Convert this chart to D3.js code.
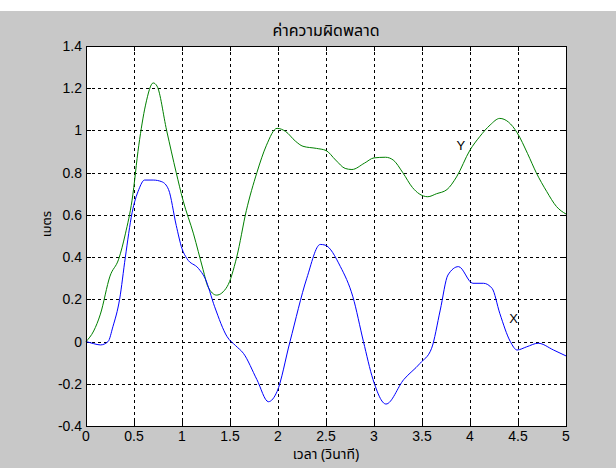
<!DOCTYPE html>
<html>
<head>
<meta charset="utf-8">
<script src="https://cdn.jsdelivr.net/npm/d3@7"></script>
<style>
  body { margin: 0; background: #fff; }
  svg { display: block; }
  .tick-label { font-family: "Liberation Sans", Arial, sans-serif; font-size: 14px; fill: #000; }
  .thai { font-family: "Noto Sans Thai", "Noto Sans", "DejaVu Sans", sans-serif; fill: #000; }
</style>
</head>
<body>
<div id="chart"></div>
<script>
// time (s) and error (m)
const tY = [0, 0.08, 0.15, 0.25, 0.34, 0.41, 0.48, 0.55, 0.62, 0.70, 0.74, 0.84, 0.94, 1.01, 1.12, 1.22, 1.27, 1.36, 1.47, 1.57, 1.67, 1.78, 1.88, 1.99, 2.08, 2.18, 2.26, 2.40, 2.50, 2.60, 2.70, 2.77, 2.90, 3.00, 3.12, 3.20, 3.30, 3.40, 3.47, 3.56, 3.65, 3.76, 3.86, 4.00, 4.10, 4.21, 4.31, 4.40, 4.49, 4.60, 4.69, 4.80, 4.90, 5.00];
const valY = [0, 0.05, 0.13, 0.31, 0.39, 0.51, 0.67, 0.93, 1.12, 1.225, 1.21, 1.0, 0.8, 0.67, 0.51, 0.34, 0.26, 0.22, 0.26, 0.40, 0.62, 0.80, 0.93, 1.01, 0.995, 0.95, 0.925, 0.915, 0.905, 0.86, 0.82, 0.815, 0.845, 0.87, 0.873, 0.86, 0.80, 0.73, 0.70, 0.686, 0.70, 0.72, 0.78, 0.907, 0.97, 1.026, 1.057, 1.04, 0.99, 0.89, 0.80, 0.71, 0.64, 0.604];

const tX = [0, 0.08, 0.15, 0.23, 0.28, 0.35, 0.41, 0.48, 0.55, 0.61, 0.70, 0.79, 0.86, 0.94, 1.00, 1.05, 1.17, 1.24, 1.34, 1.47, 1.56, 1.64, 1.78, 1.90, 1.99, 2.125, 2.30, 2.44, 2.49, 2.65, 2.78, 2.89, 2.99, 3.125, 3.31, 3.48, 3.60, 3.69, 3.77, 3.88, 4.03, 4.14, 4.23, 4.31, 4.42, 4.49, 4.59, 4.71, 4.87, 5.00];
const valX = [0, -0.01, -0.016, 0, 0.07, 0.20, 0.40, 0.61, 0.72, 0.765, 0.765, 0.757, 0.72, 0.55, 0.44, 0.394, 0.347, 0.30, 0.165, 0.023, -0.02, -0.056, -0.18, -0.285, -0.237, 0, 0.30, 0.46, 0.457, 0.355, 0.212, 0, -0.18, -0.296, -0.18, -0.103, -0.032, 0.149, 0.315, 0.355, 0.276, 0.276, 0.252, 0.134, 0, -0.04, -0.025, -0.008, -0.04, -0.068];

const xTicks = [0, 0.5, 1, 1.5, 2, 2.5, 3, 3.5, 4, 4.5, 5];
const yTicks = [-0.4, -0.2, 0, 0.2, 0.4, 0.6, 0.8, 1, 1.2, 1.4];

const titleText = "ค่าความผิดพลาด";
const xLabel = "เวลา (วินาที)";
const yLabel = "เมตร";

const W = 616, H = 468;
const PLOT_LEFT = 86, PLOT_RIGHT = 566, PLOT_TOP = 46, PLOT_BOTTOM = 426;

const svg = d3.select("#chart").append("svg").attr("width", W).attr("height", H);
svg.append("rect").attr("width", W).attr("height", H).attr("fill", "#c8c8c8");
svg.append("rect").attr("width", W).attr("height", 11).attr("fill", "#fff");

const x = d3.scaleLinear().domain([0, 5]).range([PLOT_LEFT, PLOT_RIGHT]);
const y = d3.scaleLinear().domain([-0.4, 1.4]).range([PLOT_BOTTOM, PLOT_TOP]);

// plot area
svg.append("rect")
  .attr("x", PLOT_LEFT).attr("y", PLOT_TOP)
  .attr("width", PLOT_RIGHT - PLOT_LEFT).attr("height", PLOT_BOTTOM - PLOT_TOP)
  .attr("fill", "#fff");

// dashed grid
const grid = svg.append("g").attr("stroke", "#000").attr("stroke-width", 1)
  .attr("stroke-dasharray", "3,3").attr("shape-rendering", "crispEdges");
grid.selectAll("line.v").data(xTicks.slice(1, -1)).join("line")
  .attr("class", "v")
  .attr("x1", d => Math.round(x(d)) + 0.5).attr("x2", d => Math.round(x(d)) + 0.5)
  .attr("y1", PLOT_TOP).attr("y2", PLOT_BOTTOM);
grid.selectAll("line.h").data(yTicks.slice(1, -1)).join("line")
  .attr("class", "h")
  .attr("y1", d => Math.round(y(d)) + 0.5).attr("y2", d => Math.round(y(d)) + 0.5)
  .attr("x1", PLOT_LEFT).attr("x2", PLOT_RIGHT);

// axes with inward ticks on all four sides
const axB = svg.append("g").attr("transform", `translate(0,${PLOT_BOTTOM})`)
  .call(d3.axisTop(x).tickValues(xTicks).tickSize(5).tickSizeOuter(0).tickFormat(""));
const axT = svg.append("g").attr("transform", `translate(0,${PLOT_TOP})`)
  .call(d3.axisBottom(x).tickValues(xTicks).tickSize(5).tickSizeOuter(0).tickFormat(""));
const axL = svg.append("g").attr("transform", `translate(${PLOT_LEFT},0)`)
  .call(d3.axisRight(y).tickValues(yTicks).tickSize(5).tickSizeOuter(0).tickFormat(""));
const axR = svg.append("g").attr("transform", `translate(${PLOT_RIGHT},0)`)
  .call(d3.axisLeft(y).tickValues(yTicks).tickSize(5).tickSizeOuter(0).tickFormat(""));
[axB, axT, axL, axR].forEach(a => {
  a.selectAll(".domain").remove();
  a.selectAll("line").attr("stroke", "#000").attr("shape-rendering", "crispEdges");
});

// tick labels
svg.append("g").selectAll("text").data(xTicks).join("text")
  .attr("class", "tick-label")
  .attr("x", d => x(d)).attr("y", 441)
  .attr("text-anchor", "middle")
  .text(d => d);
svg.append("g").selectAll("text").data(yTicks).join("text")
  .attr("class", "tick-label")
  .attr("x", 82).attr("y", d => y(d) + 5)
  .attr("text-anchor", "end")
  .text(d => d);

// data lines
const line = d3.line().x(d => x(d[0])).y(d => y(d[1])).curve(d3.curveMonotoneX);
const plot = svg.append("g");
plot.append("path").datum(d3.zip(tY, valY))
  .attr("d", line).attr("fill", "none").attr("stroke", "#008000").attr("stroke-width", 1);
plot.append("path").datum(d3.zip(tX, valX))
  .attr("d", line).attr("fill", "none").attr("stroke", "#0000ff").attr("stroke-width", 1);

// box
svg.append("rect")
  .attr("x", PLOT_LEFT + 0.5).attr("y", PLOT_TOP + 0.5)
  .attr("width", PLOT_RIGHT - PLOT_LEFT).attr("height", PLOT_BOTTOM - PLOT_TOP)
  .attr("fill", "none").attr("stroke", "#000").attr("shape-rendering", "crispEdges");

// curve labels
svg.append("text").attr("class", "tick-label").attr("x", x(3.86)).attr("y", y(0.93) + 5)
  .style("font-size", "13px").text("Y");
svg.append("text").attr("class", "tick-label").attr("x", x(4.41)).attr("y", y(0.11) + 5)
  .style("font-size", "13px").text("X");

// title and axis labels
svg.append("text").attr("class", "thai").attr("x", (PLOT_LEFT + PLOT_RIGHT) / 2).attr("y", 36)
  .attr("text-anchor", "middle").style("font-size", "16px").text(titleText);
svg.append("text").attr("class", "thai").attr("x", (PLOT_LEFT + PLOT_RIGHT) / 2).attr("y", 459)
  .attr("text-anchor", "middle").style("font-size", "14px").text(xLabel);
svg.append("text").attr("class", "thai")
  .attr("transform", "translate(51,224) rotate(-90)")
  .attr("text-anchor", "middle").style("font-size", "13px").text(yLabel);
</script>
</body>
</html>
